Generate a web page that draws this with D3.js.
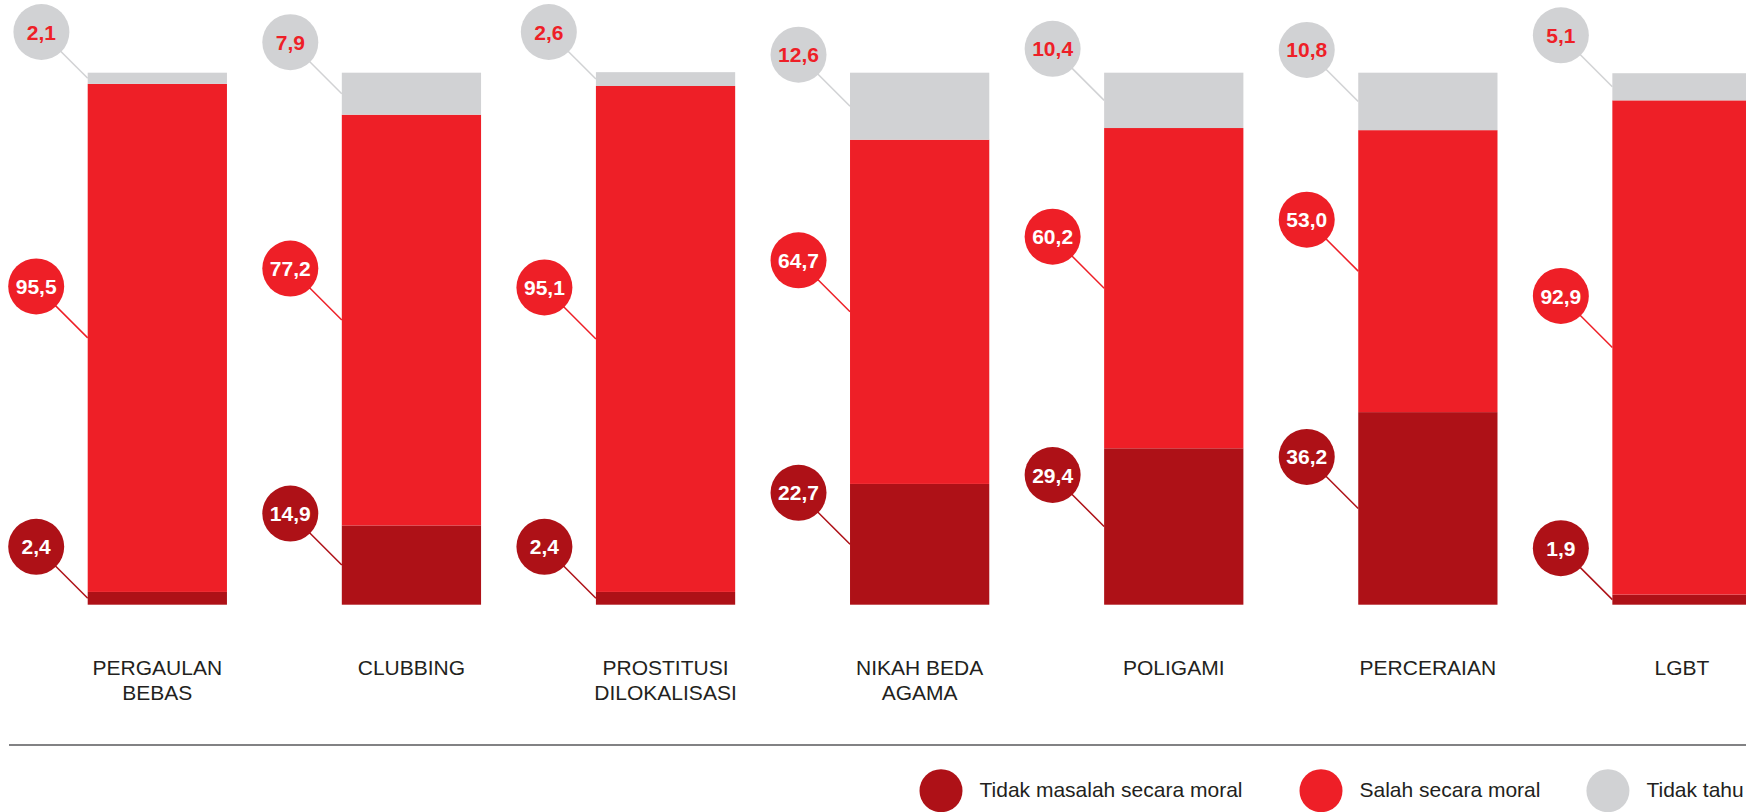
<!DOCTYPE html>
<html>
<head>
<meta charset="utf-8">
<script src="https://cdn.jsdelivr.net/npm/d3@7"></script>
<style>
  html, body { margin: 0; padding: 0; background: #ffffff; overflow: hidden; }
  svg { display: block; font-family: "Liberation Sans", Arial, Helvetica, sans-serif; }
</style>
</head>
<body>
<svg id="chart" width="1746" height="812"></svg>
<script>
// Sikap moral terhadap beberapa isu (persen responden)
const categories = ["PERGAULAN BEBAS", "CLUBBING", "PROSTITUSI DILOKALISASI", "NIKAH BEDA AGAMA", "POLIGAMI", "PERCERAIAN", "LGBT"];
const categoryLines = [["PERGAULAN", "BEBAS"], ["CLUBBING"], ["PROSTITUSI", "DILOKALISASI"], ["NIKAH BEDA", "AGAMA"], ["POLIGAMI"], ["PERCERAIAN"], ["LGBT"]];
const tidakMasalah = [2.4, 14.9, 2.4, 22.7, 29.4, 36.2, 1.9];
const salah = [95.5, 77.2, 95.1, 64.7, 60.2, 53.0, 92.9];
const tidakTahu = [2.1, 7.9, 2.6, 12.6, 10.4, 10.8, 5.1];
const seriesKeys = ["tidakMasalah", "salah", "tidakTahu"];
const seriesNames = ["Tidak masalah secara moral", "Salah secara moral", "Tidak tahu"];
const seriesColors = ["#ae1117", "#ee1f27", "#d1d2d4"];
const bubbleTextColors = ["#ffffff", "#ffffff", "#ee1f27"];

const rows = categories.map((c, i) => ({
  category: c,
  lines: categoryLines[i],
  tidakMasalah: tidakMasalah[i],
  salah: salah[i],
  tidakTahu: tidakTahu[i]
}));

const svg = d3.select("#chart");
const W = 1746;

const plotTop = 72.7, plotBottom = 604.7;
const x = d3.scaleBand()
  .domain(categories)
  .range([87.7, 1751.6])
  .paddingInner(0.452)
  .paddingOuter(0);
const y = d3.scaleLinear().domain([0, 100]).range([plotBottom, plotTop]);
const color = d3.scaleOrdinal().domain(seriesKeys).range(seriesColors);
const textColor = d3.scaleOrdinal().domain(seriesKeys).range(bubbleTextColors);

const idLocale = d3.formatLocale({ decimal: ",", thousands: ".", grouping: [3], currency: ["Rp", ""] });
const fmt = idLocale.format(".1f");

const stacked = d3.stack().keys(seriesKeys)(rows);

// Bars
const layers = svg.append("g").selectAll("g")
  .data(stacked)
  .join("g")
  .attr("fill", d => color(d.key));

layers.selectAll("rect")
  .data(d => d)
  .join("rect")
  .attr("x", d => x(d.data.category))
  .attr("width", x.bandwidth())
  .attr("y", d => y(d[1]))
  .attr("height", d => y(d[0]) - y(d[1]));

// Value bubbles with 45° leader lines to the left edge of each segment
const R = 28, leader = 51.5, minCenterY = 32;
const labels = [];
stacked.forEach(layer => {
  layer.forEach(seg => {
    const ax = x(seg.data.category);
    const ay = (y(seg[0]) + y(seg[1])) / 2;
    const d = Math.min(leader, ay - minCenterY);
    labels.push({ key: layer.key, value: seg.data[layer.key], ax, ay, cx: ax - d, cy: ay - d });
  });
});

const lbl = svg.append("g").selectAll("g")
  .data(labels)
  .join("g");

lbl.append("line")
  .attr("x1", d => d.cx).attr("y1", d => d.cy)
  .attr("x2", d => d.ax).attr("y2", d => d.ay)
  .attr("stroke", d => color(d.key))
  .attr("stroke-width", 1.5);

lbl.append("circle")
  .attr("cx", d => d.cx).attr("cy", d => d.cy)
  .attr("r", R)
  .attr("fill", d => color(d.key));

lbl.append("text")
  .attr("x", d => d.cx).attr("y", d => d.cy)
  .attr("dy", "0.36em")
  .attr("text-anchor", "middle")
  .attr("font-size", 21)
  .attr("font-weight", "bold")
  .attr("fill", d => textColor(d.key))
  .text(d => fmt(d.value));

// Category labels
const cat = svg.append("g").selectAll("text")
  .data(rows)
  .join("text")
  .attr("x", d => x(d.category) + x.bandwidth() / 2)
  .attr("y", 675)
  .attr("text-anchor", "middle")
  .attr("font-size", 21)
  .attr("fill", "#231f20");
cat.selectAll("tspan")
  .data(d => d.lines)
  .join("tspan")
  .attr("x", function () { return this.parentNode.getAttribute("x"); })
  .attr("dy", (d, i) => i === 0 ? 0 : 25)
  .text(d => d);

// Divider
svg.append("line")
  .attr("x1", 9).attr("x2", W)
  .attr("y1", 745).attr("y2", 745)
  .attr("stroke", "#58595b")
  .attr("stroke-width", 1.5);

// Legend
const legend = svg.append("g");
const legendGaps = [57, 46];
let lx = 919.5;
seriesKeys.forEach((k, i) => {
  const r = 21.5;
  legend.append("circle")
    .attr("cx", lx + r).attr("cy", 790.7).attr("r", r)
    .attr("fill", color(k));
  const t = legend.append("text")
    .attr("x", lx + r + 38.5).attr("y", 797)
    .attr("font-size", 21)
    .attr("fill", "#231f20")
    .text(seriesNames[i]);
  lx = lx + r + 38.5 + t.node().getComputedTextLength() + (legendGaps[i] || 0);
});
</script>
</body>
</html>
